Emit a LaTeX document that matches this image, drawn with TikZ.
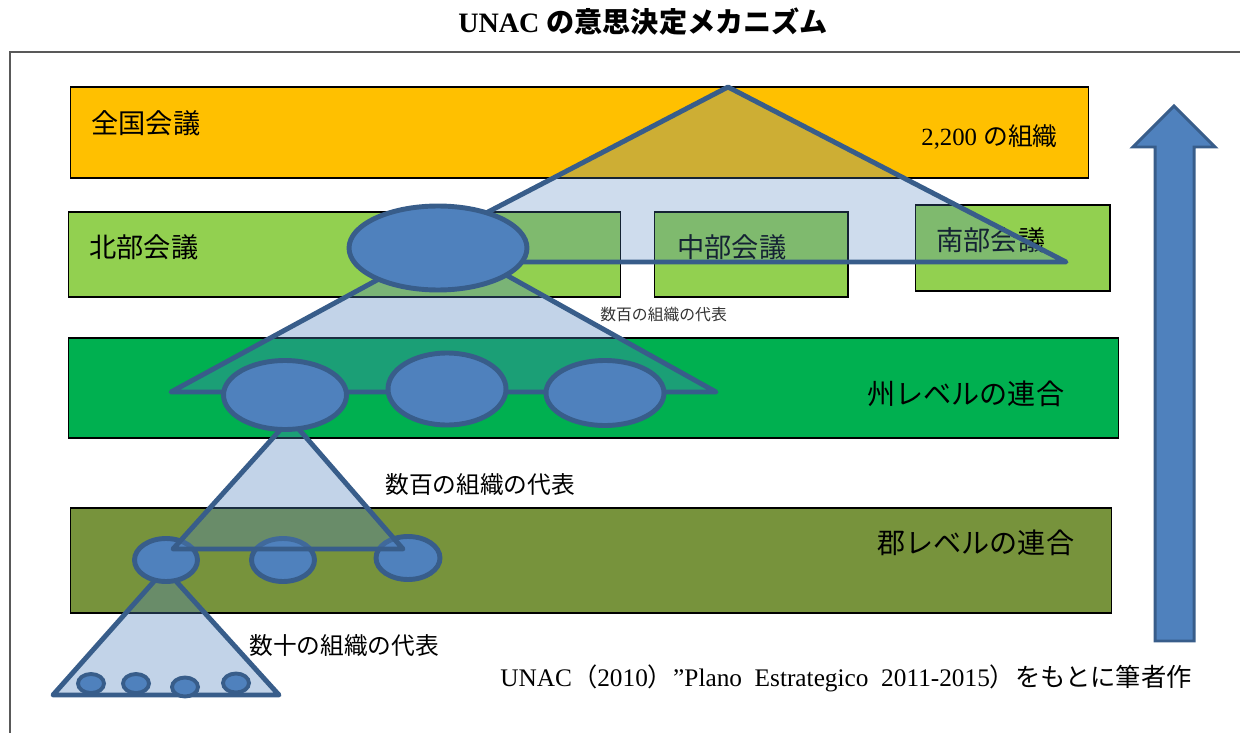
\documentclass[tikz,border=0pt]{standalone}
\usepackage{fontspec}
\setmainfont{Liberation Serif}
\newfontfamily\jpfont{Noto Sans CJK JP}
\usepackage{tikz}
\usetikzlibrary{calc, positioning}
\usetikzlibrary{shapes.geometric}
\definecolor{zenkokuorange}{HTML}{FFC000}
\definecolor{kaigigreen}{HTML}{92D050}
\definecolor{shugreen}{HTML}{00B050}
\definecolor{gunolive}{HTML}{77933C}
\definecolor{orgblue}{HTML}{4F81BD}
\definecolor{orgedge}{HTML}{385D8A}
\tikzset{
    lvlbox/.style={rectangle, draw=black, line width=0.6pt, inner sep=0pt, outer sep=0pt},% the coloured level bands
    org/.style={ellipse, draw=orgedge, fill=orgblue, line width=2.8pt, inner sep=0pt},
    pyramid/.style={draw=orgedge, fill=orgblue, fill opacity=0.35, line width=2.8pt, line join=round, line cap=round},
    lvllabel/.style={anchor=west, inner sep=0pt, font=\jpfont\fontsize{15.5}{18}\selectfont},
    note/.style={anchor=west, inner sep=0pt, font=\jpfont\fontsize{13.5}{16}\selectfont},
}
\begin{document}
\begin{tikzpicture}[x=0.02cm, y=-0.02cm]
            \useasboundingbox (0,0) rectangle (1240,733);
            \node[font=\bfseries\fontsize{16}{19}\selectfont] (title) at (643,22) {UNAC {\jpfont の意思決定メカニズム}};
            \draw[line width=1.2pt, draw=black!65] (10,733) -- (10,52) -- (1240,52);
            % level bands
            \node[lvlbox, fill=zenkokuorange, minimum width=20.38cm, minimum height=1.82cm] (zenkoku) at (579.5,132.5) {};
            \node[lvlbox, fill=kaigigreen, minimum width=11.06cm, minimum height=1.70cm] (hokubu) at (344.5,254.5) {};
            \node[lvlbox, fill=kaigigreen, minimum width=3.88cm, minimum height=1.70cm] (chubu) at (751,254.5) {};
            \node[lvlbox, fill=kaigigreen, minimum width=3.90cm, minimum height=1.72cm] (nanbu) at (1012.5,248) {};
            \node[lvlbox, fill=shugreen, minimum width=21.02cm, minimum height=2.00cm] (shu) at (593.5,388) {};
            \node[lvlbox, fill=gunolive, minimum width=20.84cm, minimum height=2.10cm] (gun) at (591,560.5) {};
            \node[lvllabel] (zenkokulbl) at (91,123) {全国会議};
            \node[note, font=\fontsize{14.1}{17}\selectfont] (zenkokunum) at (921,137) {2,200 {\jpfont の組織}};
            \node[lvllabel] (hokubulbl) at (89,247) {北部会議};
            \node[lvllabel] (chubulbl) at (677,247) {中部会議};
            \node[lvllabel] (nanbulbl) at (936,240) {南部会議};
            \node[lvllabel, font=\jpfont\fontsize{16}{19}\selectfont] (shulbl) at (867,394) {州レベルの連合};
            \node[lvllabel, font=\jpfont\fontsize{16}{19}\selectfont] (gunlbl) at (877,543) {郡レベルの連合};
            \node[note, font=\jpfont\fontsize{9}{11}\selectfont, text=black!80] (rephokubu) at (600,315) {数百の組織の代表};
            \node[note] (repshu) at (385,485) {数百の組織の代表};
            \node[note] (repgun) at (249,646) {数十の組織の代表};
            \node[anchor=west, inner sep=0pt, font=\fontsize{14.4}{17}\selectfont] (source) at (500,678) {UNAC{\jpfont （}2010{\jpfont ）}”Plano\ \ Estrategico\ \ 2011-2015{\jpfont ）をもとに筆者作}};
            % pyramids
            \coordinate (t1top) at (728,87);
            \coordinate (t1left) at (392,262);
            \coordinate (t1right) at (1066,262);
            \coordinate (t2top) at (447,242);
            \coordinate (t2left) at (171,392);
            \coordinate (t2right) at (716,392);
            \coordinate (t3top) at (290,419);
            \coordinate (t3left) at (173,549);
            \coordinate (t3right) at (403,549);
            \coordinate (t4top) at (165,569);
            \coordinate (t4left) at (53,695);
            \coordinate (t4right) at (279,695);
            \filldraw[pyramid, fill opacity=0.28] (t1top) -- (t1left) -- (t1right) -- cycle;
            \filldraw[pyramid] (t2top) -- (t2left) -- (t2right) -- cycle;
            \filldraw[pyramid] (t4top) -- (t4left) -- (t4right) -- cycle;
            \node[org, line width=2.2pt, minimum width=0.52cm, minimum height=0.38cm] (son1) at (91,683.5) {};
            \node[org, line width=2.2pt, minimum width=0.52cm, minimum height=0.38cm] (son2) at (136,683.5) {};
            \node[org, line width=2.2pt, minimum width=0.52cm, minimum height=0.38cm] (son3) at (185,687) {};
            \node[org, line width=2.2pt, minimum width=0.52cm, minimum height=0.38cm] (son4) at (236,683) {};
            \node[org, minimum width=1.26cm, minimum height=0.86cm] (gun1) at (166,560) {};
            \node[org, minimum width=1.26cm, minimum height=0.86cm] (gun2) at (283,560) {};
            \node[org, minimum width=1.28cm, minimum height=0.86cm] (gun3) at (408,558) {};
            \filldraw[pyramid] (t3top) -- (t3left) -- (t3right) -- cycle;
            \node[org, minimum width=2.46cm, minimum height=1.38cm] (shu1) at (285,395) {};
            \node[org, minimum width=2.36cm, minimum height=1.44cm] (shu2) at (447,389) {};
            \node[org, minimum width=2.36cm, minimum height=1.30cm] (shu3) at (605,393) {};
            \node[org, minimum width=3.56cm, minimum height=1.68cm] (hokubuorg) at (438,248) {};
            % upward arrow
            \filldraw[draw=orgedge, fill=orgblue, line width=1.7pt] (1155,641) -- (1155,147) -- (1133,147) -- (1174,106) -- (1215,147) -- (1194,147) -- (1194,641) -- cycle;
        \end{tikzpicture}
\end{document}
